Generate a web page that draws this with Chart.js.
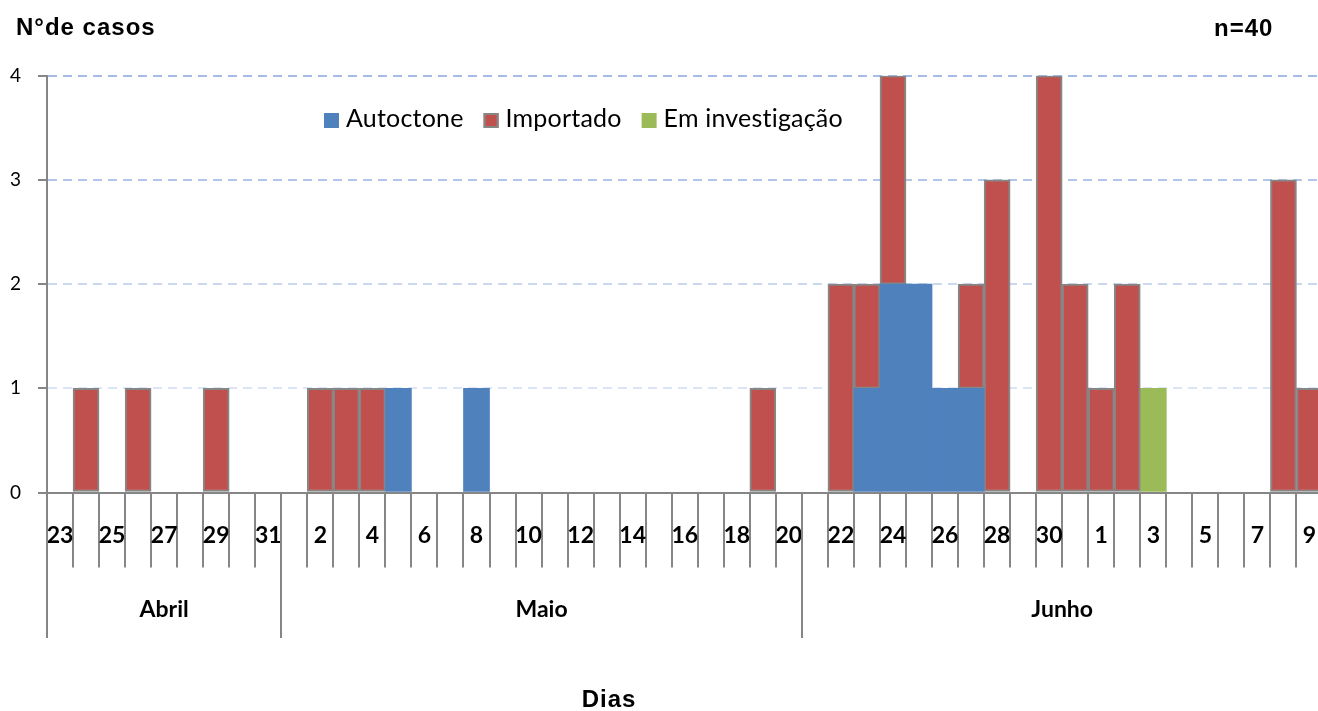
<!DOCTYPE html>
<html><head><meta charset="utf-8">
<script src="https://cdn.jsdelivr.net/npm/chart.js@4"></script>
<style>html,body{margin:0;padding:0;overflow:hidden;background:#fff}canvas{display:block}</style>
</head><body>
<canvas id="c" width="1340" height="711"></canvas>
<script>
// Category labels (days) and month groups
const days = ['23','24','25','26','27','28','29','30','31',
  '1','2','3','4','5','6','7','8','9','10','11','12','13','14','15','16','17','18','19','20',
  '21','22','23','24','25','26','27','28','29','30','31','1','2','3','4','5','6','7','8','9'];
const months = ['Abril','Maio','Junho'];
const monthStarts = [0, 9, 29];

// Series values (number of cases per day)
const autoctone = [null,null,null,null,null,null,null,null,null,
  null,null,null,null,1,null,null,1,null,null,null,null,null,null,null,null,null,null,null,null,
  null,null,1,2,2,1,1,null,null,null,null,null,null,null,null,null,null,null,null,null];
const importado = [null,1,null,1,null,null,1,null,null,
  null,1,1,1,null,null,null,null,null,null,null,null,null,null,null,null,null,null,1,null,
  null,2,1,2,null,null,1,3,null,4,2,1,2,null,null,null,null,null,3,1];
const investigacao = [null,null,null,null,null,null,null,null,null,
  null,null,null,null,null,null,null,null,null,null,null,null,null,null,null,null,null,null,null,null,
  null,null,null,null,null,null,null,null,null,null,null,null,null,1,null,null,null,null,null,null];
const seriesNames = ['Autoctone','Importado','Em investigação'];
const seriesColors = ['#4f81bd','#c0504d','#9bbb59'];
const yTicks = [0,1,2,3,4];
const titleText = 'N°de casos';
const nText = 'n=40';
const xTitle = 'Dias';

const GRAY = '#868686';
const gridColors = ['rgba(0,0,0,0)','#dce5f5','#cad8f0','#b2c6eb','#a6bce8'];

const decor = {
  id: 'decor',
  afterDraw(chart) {
    const ctx = chart.ctx, x = chart.scales.x, a = chart.chartArea;
    const half = (x.getPixelForValue(1) - x.getPixelForValue(0)) / 2;
    ctx.save();
    ctx.strokeStyle = GRAY; ctx.lineWidth = 2;
    const bounds = monthStarts.map(i => x.getPixelForValue(i) - half)
      .concat([x.getPixelForValue(days.length - 1) + half]);
    monthStarts.forEach(i => {
      const px = Math.round(x.getPixelForValue(i) - half);
      ctx.beginPath(); ctx.moveTo(px, a.bottom); ctx.lineTo(px, 638); ctx.stroke();
    });
    ctx.fillStyle = '#000';
    ctx.font = 'bold 23px Lato'; ctx.textAlign = 'center'; ctx.textBaseline = 'alphabetic';
    months.forEach((m, k) => ctx.fillText(m, (bounds[k] + bounds[k + 1]) / 2, 617));
    // titles
    ctx.font = 'bold 24px "Liberation Sans"';
    ctx.letterSpacing = '1px';
    ctx.textAlign = 'left';
    ctx.fillText(titleText, 16, 35);
    ctx.fillText(nText, 1214, 36);
    ctx.textAlign = 'center';
    ctx.fillText(xTitle, 609, 707);
    // legend
    ctx.letterSpacing = '0.2px';
    ctx.font = '25px Lato'; ctx.textAlign = 'left';
    let lx = 324;
    seriesNames.forEach((name, k) => {
      ctx.fillStyle = seriesColors[k];
      ctx.fillRect(lx, 113, 15, 15);
      if (k === 1) { ctx.strokeStyle = GRAY; ctx.lineWidth = 2; ctx.strokeRect(lx + 1, 114, 13, 13); }
      ctx.fillStyle = '#000';
      ctx.fillText(name, lx + 22, 127);
      lx += 22 + ctx.measureText(name).width + 20;
    });
    ctx.restore();
  }
};

new Chart(document.getElementById('c'), {
  type: 'bar',
  data: {
    labels: days,
    datasets: [
      { label: seriesNames[0], data: autoctone, backgroundColor: seriesColors[0], borderWidth: 0 },
      { label: seriesNames[1], data: importado, backgroundColor: seriesColors[1], borderColor: GRAY, borderWidth: 2, borderSkipped: false },
      { label: seriesNames[2], data: investigacao, backgroundColor: seriesColors[2], borderWidth: 0 }
    ]
  },
  options: {
    responsive: false, animation: false, devicePixelRatio: 1,
    datasets: { bar: { categoryPercentage: 1, barPercentage: 1 } },
    layout: { padding: { left: 0, top: 75.7, right: 17.5, bottom: 0 } },
    plugins: { legend: { display: false }, tooltip: { enabled: false } },
    scales: {
      x: {
        stacked: true, offset: true,
        grid: { offset: true, drawOnChartArea: false, drawTicks: true, tickLength: 75, tickColor: GRAY, tickWidth: 2, lineWidth: 2 },
        border: { display: true, color: GRAY, width: 2 },
        ticks: { autoSkip: false, maxRotation: 0, minRotation: 0, padding: -46, color: '#000',
          font: { family: 'Lato', size: 23, weight: 'bold' },
          callback: (v, i) => (i % 2 === 0 ? days[i] : '') },
        afterFit: s => { s.height = 218.5; }
      },
      y: {
        stacked: true, min: 0, max: 4,
        afterBuildTicks: s => { s.ticks = yTicks.map(v => ({ value: v })); },
        ticks: { padding: 17, color: '#000', font: { family: 'Lato', size: 19 } },
        grid: { color: c => gridColors[c.index] || 'rgba(0,0,0,0)', lineWidth: 2, tickLength: 9, tickColor: GRAY, tickWidth: 2, drawTicks: true },
        border: { display: true, color: GRAY, width: 2, dash: [9, 6] },
        afterFit: s => { s.width = 47; }
      }
    }
  },
  plugins: [decor]
});
</script>
</body></html>
